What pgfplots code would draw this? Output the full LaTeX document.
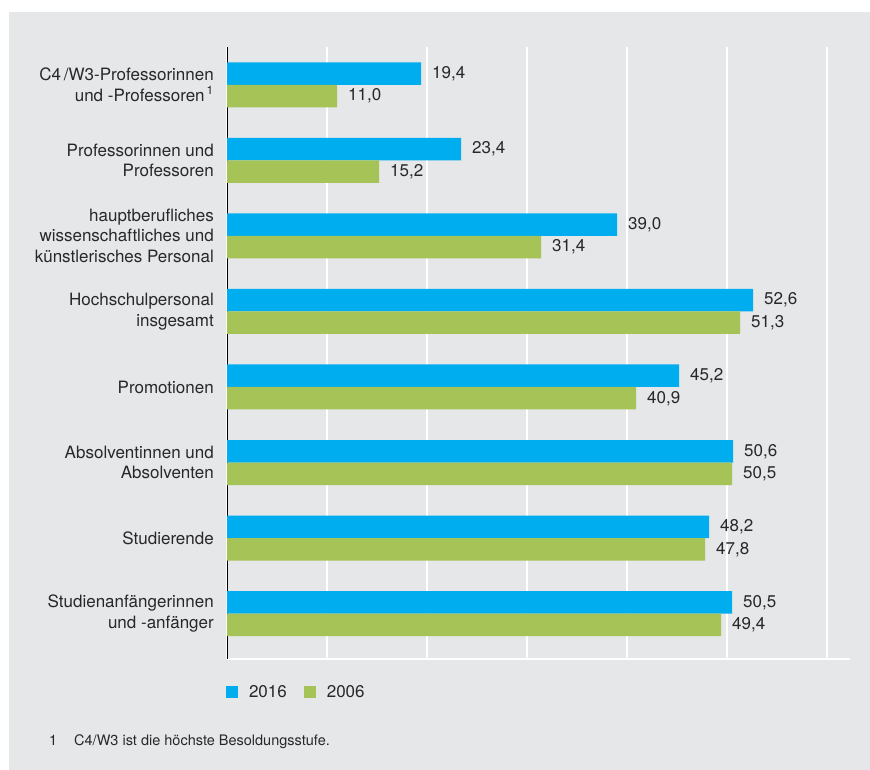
\documentclass[border=0pt]{standalone}
\usepackage{pgfplots}
\pgfplotsset{compat=1.18}
\usepackage{fontspec}
\setmainfont{TeX Gyre Heros}
\definecolor{bgpanel}{RGB}{230,231,233}
\definecolor{barblue}{RGB}{0,174,239}
\definecolor{bargreen}{RGB}{165,195,87}
\definecolor{txt}{RGB}{40,40,40}
\begin{document}
\begin{tikzpicture}[x=1pt,y=1pt]
\fill[white] (0,0) rectangle (870,770);
\fill[bgpanel] (9,0) rectangle (870,758);
\begin{axis}[
  at={(227pt,111pt)}, anchor=south west,
  scale only axis, width=623pt, height=612pt,
  xbar, bar width=22.5pt,
  xmin=0, xmax=62.3, ymin=-0.6, ymax=7.5,
  xtick={0,10,...,60}, xticklabels={},
  ytick={0,...,7},
  yticklabels={{Studienanfängerinnen\\und -anfänger},
               {Studierende},
               {Absolventinnen und\\Absolventen},
               {Promotionen},
               {Hochschulpersonal\\insgesamt},
               {hauptberufliches\\wissenschaftliches und\\künstlerisches Personal},
               {Professorinnen und\\Professoren},
               {C4\,/W3-Professorinnen\\und -Professoren\textsuperscript{\,1}}},
  yticklabel style={align=right, inner sep=0pt, xshift=-13pt,
    font=\fontsize{17}{20.5}\selectfont, text=txt},
  major tick length=0pt,
  xmajorgrids, grid style={white, line width=1.5pt},
  axis x line=bottom, axis y line=left,
  axis line style={-},
  x axis line style={-, white, line width=2pt},
  y axis line style={-, black, line width=1pt},
  clip=false,
  /pgf/number format/.cd, use comma, fixed, fixed zerofill, precision=1, assume math mode=true,
  /pgfplots/.cd,
  point meta=x,
  nodes near coords={\pgfmathprintnumber{\pgfplotspointmeta}},
  every node near coord/.append style={anchor=west, inner sep=0pt, xshift=11pt,
    font=\fontsize{17}{20}\selectfont, text=txt},
  legend style={at={(axis description cs:0,0)}, anchor=west, yshift=-33pt, xshift=-1pt,
    draw=none, fill=none, inner sep=0pt, outer sep=0pt,
    font=\fontsize{17}{20}\selectfont, text=txt,
    nodes={inner sep=0pt},
    /tikz/every odd column/.append style={column sep=11pt},
    /tikz/every even column/.append style={column sep=17pt}},
  legend columns=2,
]
\addplot[fill=barblue, draw=none, bar shift=11.25pt,
  legend image code/.code={\fill[barblue] (0pt,-6pt) rectangle (12pt,6pt);}]
  coordinates {(50.5,0) (48.2,1) (50.6,2) (45.2,3) (52.6,4) (39.0,5) (23.4,6) (19.4,7)};
\addplot[fill=bargreen, draw=none, bar shift=-11.25pt,
  legend image code/.code={\fill[bargreen] (0pt,-6pt) rectangle (12pt,6pt);}]
  coordinates {(49.4,0) (47.8,1) (50.5,2) (40.9,3) (51.3,4) (31.4,5) (15.2,6) (11.0,7)};
\legend{2016,2006}
\end{axis}
\node[anchor=base west, inner sep=0pt, font=\fontsize{14.5}{16}\selectfont, text=txt] at (49,24) {1};
\node[anchor=base west, inner sep=0pt, font=\fontsize{14.5}{16}\selectfont, text=txt] at (74,24) {C4/W3 ist die höchste Besoldungsstufe.};
\pgfresetboundingbox
\useasboundingbox (0,0) rectangle (870,770);
\end{tikzpicture}
\end{document}
